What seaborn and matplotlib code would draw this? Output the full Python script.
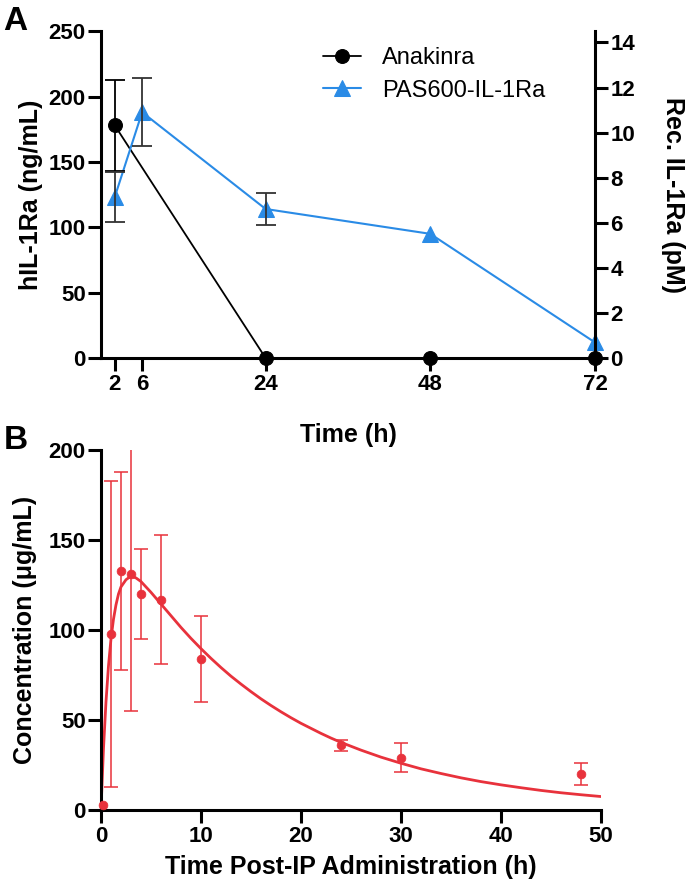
import numpy as np
import pandas as pd
import matplotlib
matplotlib.use("Agg")
import matplotlib.pyplot as plt
import seaborn as sns

# Panel A data (hIL-1Ra, ng/mL)
time_a = [2, 6, 24, 48, 72]
anakinra = [178, np.nan, 0, 0, 0]
anakinra_err = [35, np.nan, 0, 0, 0]
pas600 = [123, 188, 114, 95, 12]
pas600_err = [19, 26, 12, 0, 0]

# Panel B data (concentration, ug/mL)
time_b = [0.25, 1, 2, 3, 4, 6, 10, 24, 30, 48]
conc_b = [3, 98, 133, 131, 120, 117, 84, 36, 29, 20]
conc_err = [0, 85, 55, 76, 25, 36, 24, 3, 8, 6]

# fitted curve
fit_t = [0, 0.25, 0.5, 0.75, 1, 1.25, 1.5, 1.75, 2, 2.5, 3, 3.5, 4, 5, 6, 7, 8, 9, 10,
         11, 12, 13, 14, 15, 16, 17, 18, 19, 20, 21, 22, 23, 24, 26, 28, 30, 32, 34,
         36, 38, 40, 42, 44, 46, 48, 50]
fit_c = [0, 34, 60, 80, 95, 106, 114, 120, 124, 128, 130, 129, 127, 121, 114.5, 108, 101.5, 95.4, 89.7,
         84.3, 79.2, 74.4, 70, 65.8, 61.8, 58.1, 54.6, 51.3, 48.2, 45.4, 42.6, 40, 37.6, 33.3, 29.4,
         26, 22.9, 20.3, 17.9, 15.8, 14, 12.4, 10.9, 9.6, 8.5, 7.5]

sns.set_style("ticks")
plt.rcParams['font.family'] = ['Liberation Sans', 'DejaVu Sans']
plt.rcParams['axes.linewidth'] = 2.2
plt.rcParams['axes.edgecolor'] = 'black'
plt.rcParams['axes.labelcolor'] = 'black'
plt.rcParams['text.color'] = 'black'
plt.rcParams['xtick.color'] = 'black'
plt.rcParams['ytick.color'] = 'black'
plt.rcParams['xtick.major.width'] = 2.2
plt.rcParams['ytick.major.width'] = 2.2
plt.rcParams['xtick.major.size'] = 9.5
plt.rcParams['ytick.major.size'] = 9.5
plt.rcParams['xtick.major.pad'] = 2
plt.rcParams['ytick.major.pad'] = 1.5

blue = '#2a8be6'
red = '#e8323c'

fig = plt.figure(figsize=(6.93, 8.82), dpi=100)

##***************************************************************************************
### Panel A
ax1 = fig.add_axes([0.1457, 0.594, 0.7128, 0.3707])
df_a = pd.DataFrame({'time': time_a, 'Anakinra': anakinra, 'PAS600': pas600,
                     'ana_err': anakinra_err, 'pas_err': pas600_err})
ana = df_a.dropna()
sns.lineplot(x='time', y='Anakinra', data=ana, ax=ax1, color='black', marker='o',
             markersize=10, linewidth=1.3, markeredgecolor='black', label='Anakinra', clip_on=False)
sns.lineplot(x='time', y='PAS600', data=df_a, ax=ax1, color=blue, marker='^',
             markersize=11, linewidth=1.5, markeredgecolor=blue, label='PAS600-IL-1Ra', clip_on=False)
e1 = ana[ana['ana_err'] > 0]
ax1.errorbar(e1['time'], e1['Anakinra'], yerr=e1['ana_err'],
             fmt='none', ecolor='black', elinewidth=1.3, capsize=7, capthick=1.3)
e2 = df_a[df_a['pas_err'] > 0]
ax1.errorbar(e2['time'], e2['PAS600'], yerr=e2['pas_err'], fmt='none', ecolor='#333333',
             elinewidth=1.3, capsize=7, capthick=1.3)
ax1.set_xlim(0, 72)
ax1.set_ylim(0, 250)
ax1.set_xticks(time_a)
ax1.set_yticks([0, 50, 100, 150, 200, 250])
ax1.tick_params(labelsize=16)
for t in ax1.get_xticklabels() + ax1.get_yticklabels():
    t.set_fontweight('bold')
ax1.set_xlabel('Time (h)', fontsize=18, fontweight='bold', labelpad=20)
ax1.set_ylabel('hIL-1Ra (ng/mL)', fontsize=18, fontweight='bold', labelpad=4)
ax1.spines['top'].set_visible(False)
ax1.spines['right'].set_visible(False)
ax1.legend(loc='upper left', bbox_to_anchor=(0.43, 0.98), frameon=False, fontsize=17,
           handlelength=1.6, handletextpad=0.9, labelspacing=0.45, borderaxespad=0)

ax2 = ax1.twinx()
ax2.set_ylim(0, 14.5)
ax2.set_yticks(range(0, 15, 2))
ax2.tick_params(labelsize=16)
for t in ax2.get_yticklabels():
    t.set_fontweight('bold')
ax2.set_ylabel('Rec. IL-1Ra (pM)', fontsize=18, fontweight='bold', rotation=270, labelpad=36)
ax2.spines['top'].set_visible(False)
ax2.spines['left'].set_visible(False)
ax2.spines['bottom'].set_visible(False)

fig.text(0.005, 0.993, 'A', fontsize=24, fontweight='bold', va='top')

##***************************************************************************************
### Panel B
ax3 = fig.add_axes([0.1457, 0.0816, 0.7215, 0.408])
sns.lineplot(x=fit_t, y=fit_c, ax=ax3, color=red, linewidth=2)
sns.scatterplot(x=time_b, y=conc_b, ax=ax3, color=red, s=40, edgecolor=red, zorder=3, clip_on=False)
df_b = pd.DataFrame({'t': time_b, 'c': conc_b, 'e': conc_err})
df_b = df_b[df_b['e'] > 0]
ax3.errorbar(df_b['t'], df_b['c'], yerr=df_b['e'], fmt='none', ecolor=red, elinewidth=1.3,
             capsize=5, capthick=1.3, alpha=0.85)
ax3.set_xlim(0, 50)
ax3.set_ylim(0, 200)
ax3.set_xticks([0, 10, 20, 30, 40, 50])
ax3.set_yticks([0, 50, 100, 150, 200])
ax3.tick_params(labelsize=16)
for t in ax3.get_xticklabels() + ax3.get_yticklabels():
    t.set_fontweight('bold')
ax3.set_xlabel('Time Post-IP Administration (h)', fontsize=18, fontweight='bold', labelpad=6)
ax3.set_ylabel('Concentration (μg/mL)', fontsize=18, fontweight='bold', labelpad=8)
sns.despine(ax=ax3)

fig.text(0.005, 0.518, 'B', fontsize=24, fontweight='bold', va='top')

fig.savefig('out.png', dpi=100)
